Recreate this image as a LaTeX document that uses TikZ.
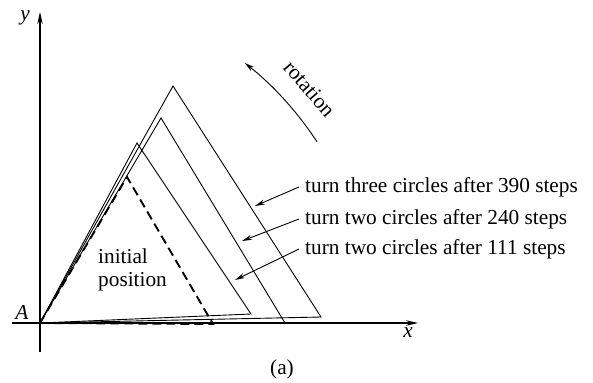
\documentclass[tikz,border=0pt]{standalone}
\usepackage{fontspec}
\setmainfont{Liberation Serif}
\usetikzlibrary{arrows.meta,calc}
\begin{document}
\begin{tikzpicture}[x=1pt,y=-1pt,
  axis/.style={line width=1.1pt,-{Stealth[length=12pt,width=5.5pt]}},
  tri/.style={line width=0.9pt,line join=miter},
  initri/.style={line width=1.9pt,dash pattern=on 9pt off 5pt},
  pointer/.style={line width=0.9pt,-{Stealth[length=10pt,width=5pt]}},
  lbl/.style={font=\fontsize{21.3}{23}\selectfont,inner sep=0pt}]
\useasboundingbox (0,0) rectangle (593,382);
% axes
\coordinate (A) at (40,323);
\coordinate (xs) at (12,323);
\coordinate (xe) at (418,323);
\coordinate (ys) at (40,352);
\coordinate (ye) at (40,12);
\draw[axis] (xs) -- (xe);
\draw[axis] (ys) -- (ye);
\node[lbl,font=\fontsize{21.3}{23}\selectfont\itshape] (ylab) at (25,18) {y};
\node[lbl,font=\fontsize{21.3}{23}\selectfont\itshape] (xlab) at (408,333) {x};
\node[lbl,font=\fontsize{21.3}{23}\selectfont\itshape] (Alab) at (22,312) {A};
% initial triangle (dashed)
\coordinate (p0) at (127,177);
\coordinate (q0) at (213,324);
\draw[initri] (A) -- (p0) -- (q0) -- cycle;
% rotated triangles
\coordinate (p1) at (137,143);
\coordinate (q1) at (251,314);
\coordinate (p2) at (161,118);
\coordinate (q2) at (285,323);
\coordinate (p3) at (173,86);
\coordinate (q3) at (321,317);
\draw[tri] (A) -- (p1) -- (q1) -- cycle;
\draw[tri] (A) -- (p2) -- (q2) -- cycle;
\draw[tri] (A) -- (p3) -- (q3) -- cycle;
% initial position text
\node[lbl,align=left,anchor=west] (init) at (98,270) {initial\\position};
% labels with pointers
\node[lbl,anchor=west] (l3) at (305,187) {turn three circles after 390 steps};
\node[lbl,anchor=west] (l2) at (305,219) {turn two circles after 240 steps};
\node[lbl,anchor=west] (l1) at (305,249) {turn two circles after 111 steps};
\coordinate (t3) at (255,206);
\coordinate (t2) at (242,241);
\coordinate (t1) at (235,280);
\draw[pointer] ([xshift=-6pt]l3.west) -- (t3);
\draw[pointer] ([xshift=-6pt]l2.west) -- (t2);
\draw[pointer] ([xshift=-6pt]l1.west) -- (t1);
% rotation arc
\draw[pointer] (A) ++(-33.2:331) arc (-33.2:-51.8:331);
\node[lbl,rotate=-49] (rot) at ($(A)+(-41:357)$) {rotation};
% caption
\node[lbl] (cap) at (282,369) {(a)};
\end{tikzpicture}
\end{document}
